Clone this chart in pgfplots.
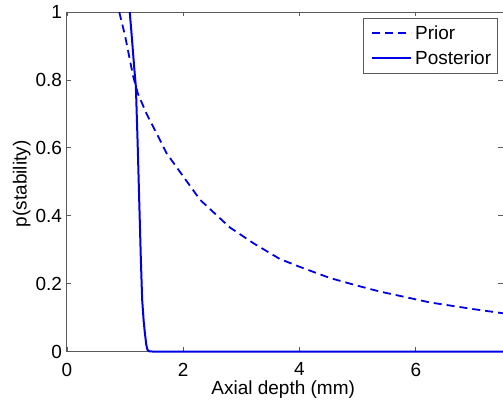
\documentclass[border=0pt]{standalone}
\usepackage{pgfplots}
\pgfplotsset{compat=1.18}
\usepackage{fontspec}
\setmainfont{Liberation Sans}
\definecolor{mblue}{RGB}{0,0,230}
\definecolor{axgray}{RGB}{90,90,90}
\newcommand{\bigf}{\fontsize{19}{22}\selectfont}
\begin{document}
\begin{tikzpicture}
\begin{axis}[
  anchor=south west, at={(0pt,0pt)},
  scale only axis, width=436.5pt, height=340pt,
  xmin=0, xmax=7.5, ymin=0, ymax=1,
  xtick={0,2,4,6}, ytick={0,0.2,0.4,0.6,0.8,1},
  /pgf/number format/assume math mode=true,
  tick label style={font=\bigf},
  yticklabel style={inner sep=0pt, xshift=-4.7pt},
  xticklabel style={inner sep=0pt, yshift=-11pt},
  axis line style={axgray, line width=0.9pt},
  tick style={axgray, line width=0.8pt},
  major tick length=4.5pt,
  xlabel={Axial depth (mm)},
  xlabel style={at={(axis description cs:0.496,-0.1265)}, anchor=base, font=\bigf},
  ylabel={p(stability)},
  ylabel style={at={(axis description cs:-0.0923,0.494)}, anchor=base, font=\bigf},
  clip=false,
  legend cell align=left,
  legend image code/.code={\path (0pt,0pt) (44pt,0pt); \draw[#1] (3pt,0pt) -- (42pt,0pt);},
  legend style={at={(axis description cs:1,1)}, anchor=north east, xshift=-5.5pt, yshift=-6pt,
    draw=axgray, line width=0.8pt, font=\bigf, inner xsep=5pt, inner ysep=6.5pt, row sep=8pt,
    nodes={inner xsep=1pt, inner ysep=1pt, text height=14pt, text depth=1pt}},
]
\addplot[mblue, line width=1.8pt, dash pattern=on 8pt off 5pt] coordinates {
(0.90,1.00) (1.00,0.93) (1.14,0.81) (1.22,0.76) (1.37,0.70) (1.55,0.64) (1.71,0.585)
(2.00,0.516) (2.29,0.447) (2.80,0.366) (3.20,0.32) (3.66,0.273) (4.00,0.25) (4.52,0.217)
(5.00,0.194) (5.38,0.177) (6.00,0.154) (6.24,0.145) (7.00,0.125) (7.50,0.113)
};
\addlegendentry{Prior}
\addplot[mblue, line width=2pt] coordinates {
(1.08,1.00) (1.10,0.96) (1.128,0.90) (1.16,0.83) (1.186,0.78) (1.215,0.62) (1.243,0.447)
(1.27,0.28) (1.294,0.153) (1.32,0.09) (1.34,0.056) (1.365,0.02) (1.386,0.005) (1.42,0.001)
(1.5,0) (7.5,0)
};
\addlegendentry{Posterior}
\end{axis}
\pgfresetboundingbox
\useasboundingbox (-67pt,-52pt) rectangle (436.5pt,352pt);
\end{tikzpicture}
\end{document}
